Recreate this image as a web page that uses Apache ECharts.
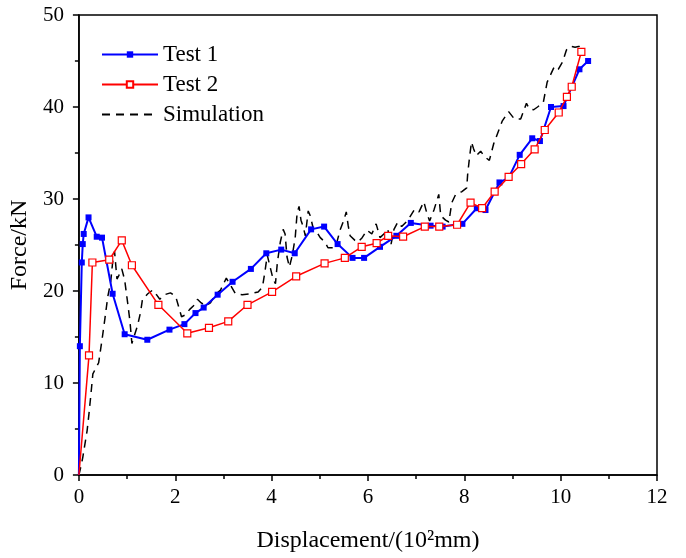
<!DOCTYPE html>
<html>
<head>
<meta charset="utf-8">
<script src="https://cdn.jsdelivr.net/npm/echarts@6/dist/echarts.min.js"></script>
<style>
  html, body { margin: 0; padding: 0; background: #fff; }
  #chart { width: 686px; height: 558px; }
</style>
</head>
<body>
<div id="chart"></div>
<script>
// Force–displacement records: [displacement (10^2 mm), force (kN)]
const test1 = [
  [0, 0], [0.02, 14.0], [0.06, 23.1], [0.08, 25.1], [0.10, 26.2], [0.20, 28.0],
  [0.37, 25.9], [0.48, 25.8], [0.70, 19.7], [0.95, 15.3], [1.42, 14.7], [1.88, 15.8],
  [2.19, 16.4], [2.42, 17.6], [2.59, 18.2], [2.88, 19.6], [3.19, 21.0], [3.57, 22.4],
  [3.89, 24.1], [4.20, 24.5], [4.48, 24.1], [4.82, 26.7], [5.09, 27.0], [5.37, 25.1],
  [5.68, 23.6], [5.92, 23.6], [6.25, 24.8], [6.59, 26.0], [6.89, 27.4], [7.30, 27.1],
  [7.55, 27.0], [7.96, 27.3], [8.26, 29.0], [8.44, 28.8], [8.73, 31.8], [8.92, 32.3],
  [9.15, 34.8], [9.41, 36.6], [9.57, 36.3], [9.80, 40.0], [10.06, 40.1], [10.15, 41.2],
  [10.39, 44.1], [10.57, 45.0]
];

const test2 = [
  [0, 0], [0.21, 13.0], [0.28, 23.1], [0.63, 23.4], [0.89, 25.5], [1.10, 22.8],
  [1.65, 18.5], [2.25, 15.4], [2.70, 16.0], [3.10, 16.7], [3.50, 18.5], [4.01, 19.9],
  [4.51, 21.6], [5.10, 23.0], [5.52, 23.6], [5.87, 24.8], [6.18, 25.2], [6.42, 26.0],
  [6.73, 25.9], [7.18, 27.0], [7.48, 27.0], [7.85, 27.2], [8.13, 29.6], [8.37, 29.0],
  [8.63, 30.8], [8.92, 32.4], [9.18, 33.8], [9.46, 35.4], [9.67, 37.5], [9.96, 39.4],
  [10.13, 41.1], [10.23, 42.2], [10.43, 46.0]
];

const simulation = [
  [0, 0], [0.04, 0.9], [0.08, 1.9], [0.12, 3.2], [0.17, 4.8], [0.21, 6.7], [0.25, 8.8],
  [0.29, 11.0], [0.35, 11.6], [0.41, 12.2], [0.48, 14.7], [0.54, 17.0], [0.60, 19.4],
  [0.66, 21.0], [0.70, 23.1], [0.74, 24.3], [0.79, 21.3], [0.83, 21.7], [0.89, 22.4],
  [0.95, 21.2], [1.01, 18.8], [1.06, 16.7], [1.10, 14.3], [1.16, 15.3], [1.22, 16.3],
  [1.28, 17.7], [1.32, 19.1], [1.43, 19.7], [1.53, 20.1], [1.61, 19.6], [1.68, 19.1],
  [1.78, 19.6], [1.90, 19.8], [2.01, 19.4], [2.07, 18.3], [2.13, 17.2], [2.21, 17.4],
  [2.30, 18.0], [2.38, 18.4], [2.46, 19.1], [2.54, 18.7], [2.63, 18.4], [2.73, 18.7],
  [2.83, 19.6], [2.94, 20.1], [3.06, 21.4], [3.15, 20.6], [3.25, 19.7], [3.39, 19.6],
  [3.56, 19.7], [3.72, 19.9], [3.81, 20.4], [3.87, 22.4], [3.91, 23.9], [3.97, 22.6],
  [4.03, 21.3], [4.08, 20.8], [4.12, 23.1], [4.18, 25.3], [4.24, 26.7], [4.28, 26.2],
  [4.32, 23.7], [4.37, 22.6], [4.43, 23.9], [4.49, 25.8], [4.53, 28.5], [4.57, 29.2],
  [4.61, 27.7], [4.66, 26.9], [4.70, 26.0], [4.76, 28.7], [4.80, 28.2], [4.86, 26.9],
  [4.95, 26.3], [5.01, 25.8], [5.11, 25.3], [5.17, 24.7], [5.28, 24.7], [5.36, 25.4],
  [5.42, 26.6], [5.50, 27.7], [5.55, 28.6], [5.59, 27.1], [5.63, 26.0], [5.73, 25.5],
  [5.79, 25.3], [5.88, 25.8], [5.98, 26.6], [6.08, 26.2], [6.17, 27.3], [6.25, 25.8],
  [6.33, 26.2], [6.41, 26.7], [6.48, 25.1], [6.54, 26.7], [6.62, 27.5], [6.70, 27.0],
  [6.83, 27.7], [6.97, 28.9], [7.06, 28.6], [7.16, 29.7], [7.22, 28.5], [7.28, 27.6],
  [7.37, 28.8], [7.47, 30.5], [7.51, 28.2], [7.61, 27.7], [7.68, 27.5], [7.74, 29.6],
  [7.82, 30.5], [7.95, 30.8], [8.05, 31.2], [8.07, 32.7], [8.11, 34.6], [8.15, 36.2],
  [8.19, 35.5], [8.25, 34.7], [8.34, 35.2], [8.42, 34.6], [8.52, 34.2], [8.61, 36.0],
  [8.71, 37.4], [8.79, 38.5], [8.92, 39.5], [9.04, 38.7], [9.17, 38.7], [9.29, 40.4],
  [9.35, 39.8], [9.44, 39.7], [9.52, 40.0], [9.64, 40.5], [9.72, 42.7], [9.87, 44.4],
  [9.95, 44.1], [10.04, 44.9], [10.12, 46.2], [10.20, 46.6], [10.30, 46.5], [10.39, 46.6],
  [10.47, 46.8]
];

const xTicks = { min: 0, max: 12, interval: 2 };
const yTicks = { min: 0, max: 50, interval: 10 };

const serif = '"Liberation Serif", "Times New Roman", serif';

// The origin point of each test is drawn without a marker.
function withBareOrigin(points) {
  return points.map((p, i) => i === 0 ? { value: p, symbol: 'none' } : p);
}

const chart = echarts.init(document.getElementById('chart'), null, { renderer: 'canvas' });

const axisCommon = {
  axisLine: { show: true, onZero: false, lineStyle: { color: '#000', width: 1.5 } },
  axisTick: { show: true, inside: false, length: 6, lineStyle: { color: '#000', width: 1.5 } },
  minorTick: { show: true, splitNumber: 2, length: 4, lineStyle: { color: '#000', width: 1.5 } },
  splitLine: { show: false },
  axisLabel: { color: '#000', fontFamily: serif, fontSize: 21 }
};

chart.setOption({
  animation: false,
  backgroundColor: '#fff',
  grid: {
    left: 78, right: 29, top: 15, bottom: 78,
    show: true, borderColor: '#000', borderWidth: 1.5, containLabel: false
  },
  legend: {
    left: 96, top: 38, orient: 'vertical',
    itemWidth: 56, itemHeight: 8, itemGap: 7,
    textStyle: { color: '#000', fontFamily: serif, fontSize: 23, padding: [0, 0, 0, 0] },
    data: [
      'Test 1',
      'Test 2',
      { name: 'Simulation', itemStyle: { color: 'transparent', borderColor: 'transparent', opacity: 0 } }
    ]
  },
  xAxis: Object.assign({}, axisCommon, {
    type: 'value', min: xTicks.min, max: xTicks.max, interval: xTicks.interval,
    name: 'Displacement/(10²mm)', nameLocation: 'middle', nameGap: 54,
    nameTextStyle: { color: '#000', fontFamily: serif, fontSize: 24 },
    axisLabel: Object.assign({}, axisCommon.axisLabel, { margin: 12 })
  }),
  yAxis: Object.assign({}, axisCommon, {
    type: 'value', min: yTicks.min, max: yTicks.max, interval: yTicks.interval,
    name: 'Force/kN', nameLocation: 'middle', nameGap: 38, nameRotate: 90,
    nameTextStyle: { color: '#000', fontFamily: serif, fontSize: 24 },
    axisLabel: Object.assign({}, axisCommon.axisLabel, { margin: 15 })
  }),
  series: [
    {
      name: 'Test 1', type: 'line', data: withBareOrigin(test1),
      symbol: 'rect', symbolSize: 6,
      lineStyle: { color: '#0000ff', width: 2 },
      itemStyle: { color: '#0000ff', borderWidth: 0 },
      z: 3
    },
    {
      name: 'Test 2', type: 'line', data: withBareOrigin(test2),
      symbol: 'rect', symbolSize: 7,
      lineStyle: { color: '#ff0000', width: 1.5 },
      itemStyle: { color: '#ffffff', borderColor: '#ff0000', borderWidth: 1.2 },
      z: 4
    },
    {
      name: 'Simulation', type: 'line', data: simulation,
      symbol: 'none',
      lineStyle: { color: '#000', width: 1.5, type: [8, 6] },
      itemStyle: { color: '#000' },
      z: 2
    }
  ]
});
</script>
</body>
</html>
